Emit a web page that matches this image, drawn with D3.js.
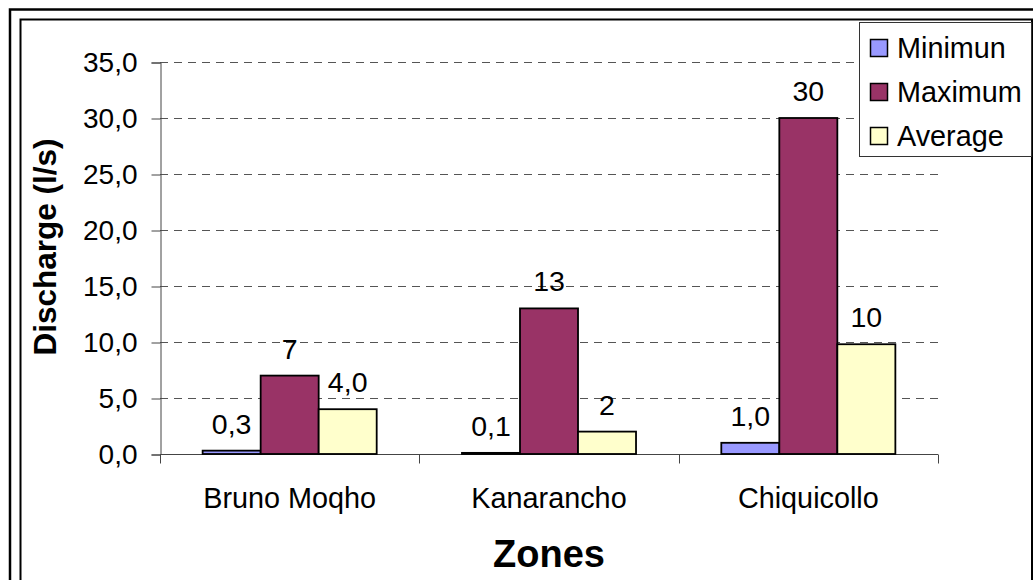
<!DOCTYPE html>
<html>
<head>
<meta charset="utf-8">
<script src="https://cdn.jsdelivr.net/npm/d3@7"></script>
<style>
html,body{margin:0;padding:0;background:#fff;}
svg{display:block;font-family:Arial,"Liberation Sans",sans-serif;}
</style>
</head>
<body>
<svg id="chart" width="1033" height="580"></svg>
<script>
const categories = ["Bruno Moqho", "Kanarancho", "Chiquicollo"];
const seriesNames = ["Minimun", "Maximum", "Average"];
const minimum = [0.3, 0.1, 1.0];
const maximum = [7, 13, 30];
const average = [4.0, 2.0, 9.8];
const minLabels = ["0,3", "0,1", "1,0"];
const maxLabels = ["7", "13", "30"];
const avgLabels = ["4,0", "2", "10"];
const yTicks = [0, 5, 10, 15, 20, 25, 30, 35];
const colors = ["#9999FF", "#993366", "#FFFFCC"];

const seriesValues = [minimum, maximum, average];
const seriesLabels = [minLabels, maxLabels, avgLabels];

const svg = d3.select("#chart");

// frames
svg.append("rect").attr("x", 10).attr("y", 9.5).attr("width", 1040).attr("height", 600)
  .attr("fill", "none").attr("stroke", "#000").attr("stroke-width", 2.5);
svg.append("rect").attr("x", 20.5).attr("y", 19.5).attr("width", 1011.5).attr("height", 600)
  .attr("fill", "none").attr("stroke", "#000").attr("stroke-width", 2);

const plot = {left: 160, right: 938, top: 62, bottom: 454};
const x0 = d3.scaleBand().domain(categories).range([plot.left, plot.right]).paddingInner(0).paddingOuter(0);
const x1 = d3.scaleBand().domain(seriesNames).range([0, x0.bandwidth()]).paddingOuter(0.735).paddingInner(0);
const y = d3.scaleLinear().domain([0, 35]).range([plot.bottom, plot.top]);

// gridlines
svg.append("g").selectAll("line").data(yTicks.filter(d => d > 0)).join("line")
  .attr("x1", plot.left).attr("x2", plot.right)
  .attr("y1", d => Math.round(y(d)) + 0.5).attr("y2", d => Math.round(y(d)) + 0.5)
  .attr("stroke", "#555").attr("stroke-width", 1).attr("stroke-dasharray", "8,6");

// y axis
const yAxis = d3.axisLeft(y).tickValues(yTicks).tickSize(9).tickPadding(14)
  .tickFormat(d => d3.format(".1f")(d).replace(".", ","));
const gy = svg.append("g").attr("transform", `translate(${plot.left + 0.5},0.5)`).call(yAxis);
gy.select(".domain").attr("stroke", "#444");
gy.selectAll(".tick line").attr("stroke", "#444");
gy.selectAll(".tick text").attr("font-size", 28).attr("fill", "#000")
  .attr("font-family", "Arial, 'Liberation Sans', sans-serif");

// x axis line and category ticks
const gx = svg.append("g").attr("transform", `translate(0,${plot.bottom + 0.5})`);
gx.append("line").attr("x1", plot.left).attr("x2", plot.right).attr("stroke", "#444");
const boundaries = categories.map(c => x0(c)).concat([plot.right]);
gx.selectAll("line.tk").data(boundaries).join("line").attr("class", "tk")
  .attr("x1", d => Math.round(d) + 0.5).attr("x2", d => Math.round(d) + 0.5)
  .attr("y1", 0).attr("y2", 9).attr("stroke", "#444");
gx.selectAll("text").data(categories).join("text")
  .attr("x", d => x0(d) + x0.bandwidth() / 2).attr("y", 53)
  .attr("text-anchor", "middle").attr("font-size", 28.8).text(d => d);

// bars
const groups = svg.append("g").selectAll("g").data(categories).join("g")
  .attr("transform", c => `translate(${x0(c)},0)`);
groups.selectAll("rect").data((c, i) => seriesNames.map((s, j) => ({s, v: seriesValues[j][i], j})))
  .join("rect")
  .attr("x", d => x1(d.s)).attr("width", x1.bandwidth())
  .attr("y", d => y(d.v)).attr("height", d => y(0) - y(d.v))
  .attr("fill", d => colors[d.j]).attr("stroke", "#000").attr("stroke-width", 1.8);
groups.selectAll("text").data((c, i) => seriesNames.map((s, j) => ({s, v: seriesValues[j][i], t: seriesLabels[j][i]})))
  .join("text")
  .attr("x", d => x1(d.s) + x1.bandwidth() / 2).attr("y", d => y(d.v) - 17)
  .attr("text-anchor", "middle").attr("font-size", 28.5).text(d => d.t);

// axis titles
svg.append("text").attr("x", (plot.left + plot.right) / 2).attr("y", 567)
  .attr("text-anchor", "middle").attr("font-size", 38).attr("font-weight", "bold").text("Zones");
svg.append("text").attr("transform", "translate(56,247) rotate(-90)")
  .attr("text-anchor", "middle").attr("font-size", 31.5).attr("font-weight", "bold").text("Discharge (l/s)");

// legend
const lg = svg.append("g");
lg.append("rect").attr("x", 859.5).attr("y", 22.5).attr("width", 172).attr("height", 134)
  .attr("fill", "#fff").attr("stroke", "#333").attr("stroke-width", 1);
const items = lg.selectAll("g").data(seriesNames).join("g")
  .attr("transform", (d, i) => `translate(870,${39 + i * 44})`);
items.append("rect").attr("x", 0.5).attr("y", 0.5).attr("width", 17).attr("height", 17)
  .attr("fill", (d, i) => colors[i]).attr("stroke", "#000").attr("stroke-width", 1.5);
items.append("text").attr("x", 27).attr("y", 19).attr("font-size", 28.8).text(d => d);
</script>
</body>
</html>
